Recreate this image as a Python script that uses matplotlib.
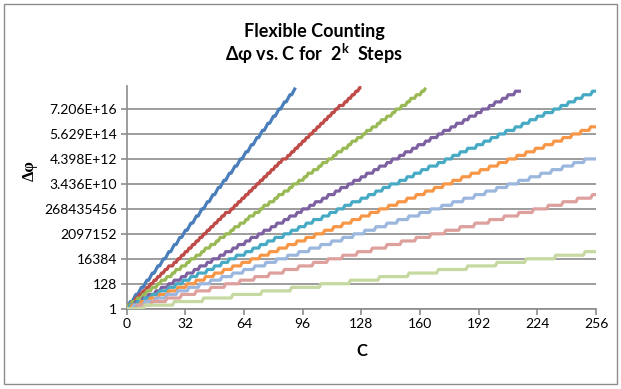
import matplotlib
matplotlib.use("Agg")
import matplotlib.pyplot as plt
from matplotlib.patches import Rectangle
import numpy as np

plt.rcParams['font.family'] = ['Lato', 'DejaVu Sans']
plt.rcParams['mathtext.default'] = 'regular'

# C values at which Δφ doubles, and the last C of each series
blue_jumps = [1, 2, 4, 5, 7, 8, 10, 11, 13, 14, 16, 17, 19, 20, 22, 23, 25, 26, 28, 29, 31, 32,
              34, 35, 37, 38, 40, 41, 43, 44, 46, 47, 49, 50, 52, 53, 55, 56, 58, 59, 61, 62,
              64, 65, 67, 68, 70, 71, 73, 74, 76, 77, 79, 80, 82, 83, 85, 86, 88, 89, 91, 92]
red_jumps = [1, 3, 5, 7, 9, 11, 13, 15, 17, 19, 21, 23, 26, 28, 30, 32, 34, 36, 38, 40, 42, 44,
             46, 48, 50, 52, 54, 57, 59, 61, 63, 65, 67, 69, 71, 73, 75, 77, 79, 81, 83, 85,
             88, 90, 92, 94, 96, 98, 100, 102, 104, 106, 108, 110, 112, 114, 116, 119, 121,
             123, 125, 127]
green_jumps = [1, 3, 6, 9, 11, 14, 17, 19, 22, 25, 27, 30, 33, 35, 38, 41, 43, 46, 49, 51, 54,
               57, 59, 62, 65, 67, 70, 73, 75, 78, 81, 83, 86, 89, 91, 94, 97, 99, 102, 105,
               107, 110, 113, 115, 118, 121, 123, 126, 129, 131, 134, 137, 139, 142, 145, 147,
               150, 153, 155, 158, 161, 163]
purple_jumps = [2, 5, 9, 12, 16, 19, 23, 26, 30, 33, 37, 40, 44, 47, 51, 54, 58, 61, 65, 68, 72,
                75, 79, 82, 86, 89, 93, 96, 100, 103, 107, 110, 114, 117, 121, 124, 128, 131,
                135, 138, 142, 145, 149, 152, 156, 159, 163, 166, 170, 173, 177, 180, 184, 187,
                191, 194, 198, 201, 205, 208, 212]
teal_jumps = [2, 6, 10, 14, 18, 23, 27, 31, 35, 39, 44, 48, 52, 56, 60, 65, 69, 73, 77, 81, 86,
              90, 94, 98, 102, 107, 111, 115, 119, 123, 128, 132, 136, 140, 144, 149, 153, 157,
              161, 165, 170, 174, 178, 182, 186, 191, 195, 199, 203, 207, 212, 216, 220, 224,
              228, 233, 237, 241, 245, 249, 254]
orange_jumps = [3, 8, 13, 18, 23, 28, 33, 38, 43, 48, 53, 58, 63, 68, 73, 78, 83, 88, 93, 98,
                103, 108, 113, 118, 123, 128, 133, 138, 143, 148, 153, 158, 163, 168, 173, 178,
                183, 188, 193, 198, 203, 208, 213, 218, 223, 228, 233, 238, 243, 248, 253]
ltblue_jumps = [4, 10, 16, 22, 28, 34, 40, 46, 52, 58, 64, 70, 76, 82, 88, 94, 100, 106, 112,
                118, 124, 130, 136, 142, 148, 154, 160, 166, 172, 178, 184, 190, 196, 202, 208,
                214, 220, 226, 232, 238, 244, 250]
ltred_jumps = [6, 14, 22, 30, 38, 46, 54, 62, 70, 78, 86, 94, 102, 110, 118, 126, 134, 142, 150,
               158, 166, 174, 182, 190, 198, 206, 214, 222, 230, 238, 246, 254]
ltgreen_jumps = [10, 26, 42, 58, 74, 90, 106, 122, 138, 154, 170, 186, 202, 218, 234, 250]

last_c = [92, 128, 163, 215, 256, 256, 256, 256, 256]
colors = ['#4A7EBB', '#BE4B48', '#98B954', '#7D60A0', '#46AAC5', '#F79646',
          '#9BB7DD', '#DDA09D', '#C5D9A0']

x_ticks = [0, 32, 64, 96, 128, 160, 192, 224, 256]
y_tick_labels = ['1', '128', '16384', '2097152', '268435456', '3.436E+10',
                 '4.398E+12', '5.629E+14', '7.206E+16']

all_jumps = [blue_jumps, red_jumps, green_jumps, purple_jumps, teal_jumps,
             orange_jumps, ltblue_jumps, ltred_jumps, ltgreen_jumps]

fig = plt.figure(figsize=(6.21, 3.89), dpi=100)
ax = fig.add_axes([0.204, 0.2064, 0.756, 0.572])

for jumps, end, col in zip(all_jumps, last_c, colors):
    c = np.arange(0, end + 1)
    expo = np.searchsorted(np.array(jumps), c, side='right')
    ax.plot(c, 2.0 ** expo, color=col, lw=2.3, solid_capstyle='butt', zorder=3)

ax.set_yscale('log', base=2)
ax.set_xlim(0, 256)
ax.set_ylim(1, 2 ** 62.4)
ax.set_xticks(x_ticks)
ax.set_xticklabels([str(t) for t in x_ticks], fontsize=10)
yt = [2.0 ** (7 * i) for i in range(len(y_tick_labels))]
ax.set_yticks(yt)
ax.set_yticklabels(y_tick_labels, fontsize=10)
ax.yaxis.set_minor_locator(matplotlib.ticker.NullLocator())

ax.grid(axis='y', color='#8C8C8C', lw=1.2)
ax.set_axisbelow(True)
for s in ['top', 'right']:
    ax.spines[s].set_visible(False)
for s in ['left', 'bottom']:
    ax.spines[s].set_color('#8C8C8C')
    ax.spines[s].set_linewidth(1.2)
ax.tick_params(colors='#8C8C8C', labelcolor='black', length=4, width=1.2, pad=3)

ax.set_xlabel('C', fontsize=12, fontweight='bold', labelpad=9)
ax.set_ylabel('Δφ', fontsize=12, fontweight='bold', family='Liberation Serif')
ax.yaxis.set_label_coords(-0.19, 0.62)

fig.text(0.506, 0.918, 'Flexible Counting', ha='center', va='center', fontsize=13, fontweight='bold')
fig.text(0.506, 0.862, r'Δφ vs. C for  $\mathregular{2^k}$  Steps', ha='center', va='center',
         fontsize=13, fontweight='bold')

fig.patches.append(Rectangle((4 / 621, 5 / 389), 613 / 621, 380 / 389, transform=fig.transFigure,
                             fill=False, edgecolor='#8C8C8C', lw=1))

fig.savefig('out.png', dpi=100)
